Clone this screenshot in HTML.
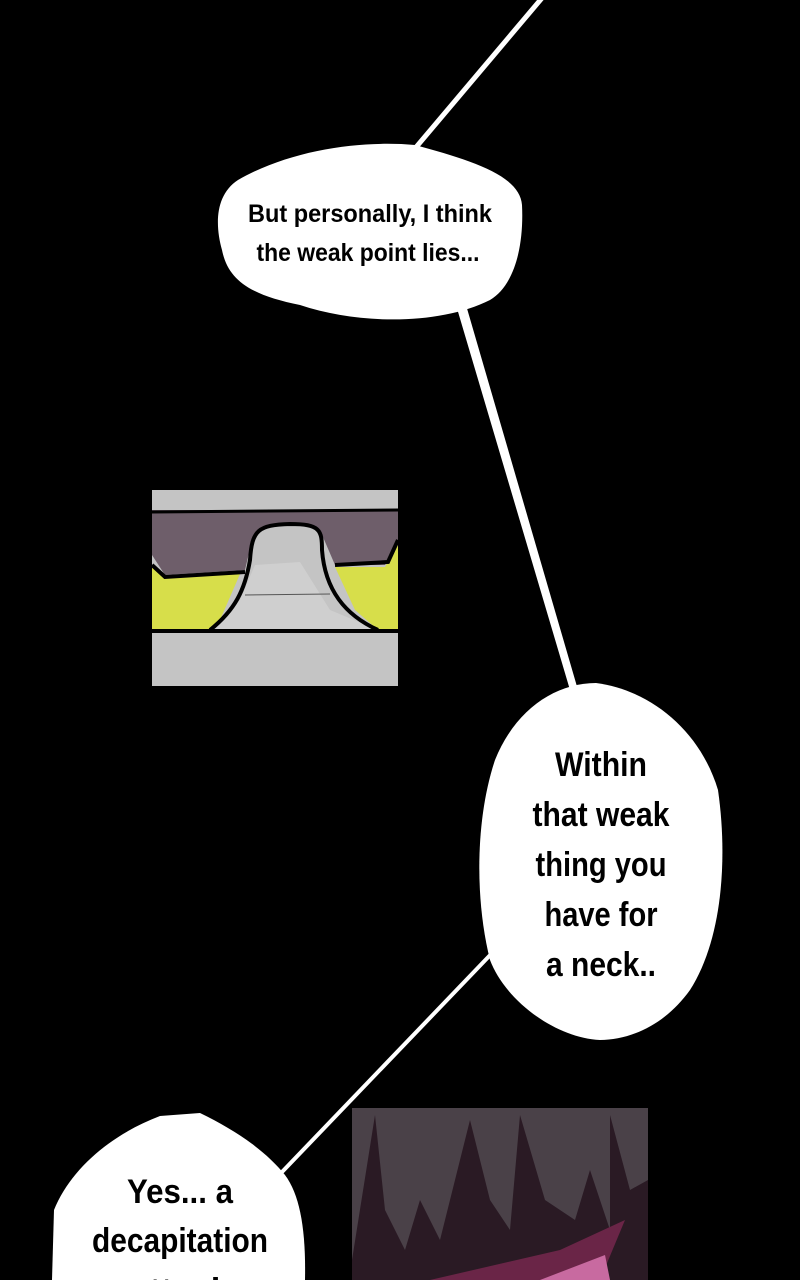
<!DOCTYPE html>
<html><head><style>
html,body{margin:0;padding:0;background:#000;}
svg{display:block}
text{font-family:"Liberation Sans Narrow","Liberation Sans",sans-serif;font-weight:bold;fill:#000;text-anchor:middle}
</style></head><body>
<svg width="800" height="1280" viewBox="0 0 800 1280" xmlns="http://www.w3.org/2000/svg">
<rect width="800" height="1280" fill="#000"/>
<line x1="542" y1="-2" x2="412" y2="152" stroke="#fff" stroke-width="5"/>
<polygon points="456,305 466,305 578,690 570,690" fill="#fff"/>
<line x1="495" y1="950" x2="282" y2="1172" stroke="#fff" stroke-width="4"/>

<g>
<rect x="152" y="490" width="246" height="196" fill="#c4c4c4"/>
<polygon points="152,510 398,510 398,540 385,565 335,565 320,530 300,524 265,526 252,540 245,570 165,575 152,555" fill="#6e5e6a"/>
<path d="M152,512 L398,510" stroke="#000" stroke-width="3" fill="none"/>
<polygon points="152,565 165,577 240,574 220,620 210,630 152,630" fill="#d7de4a"/>
<polygon points="398,545 385,567 335,567 355,610 378,630 398,630" fill="#d7de4a"/>
<path d="M152,565 L165,577 L245,572" stroke="#000" stroke-width="4" fill="none"/>
<path d="M398,540 L388,562 L335,565" stroke="#000" stroke-width="4" fill="none"/>
<polygon points="255,565 300,562 330,610 378,630 210,630 240,600" fill="#cfcfcf"/>
<path d="M210,630 C235,610 245,590 250,560 C252,530 258,525 290,524 C320,524 322,530 322,550 C325,590 345,615 378,630" stroke="#000" stroke-width="4" fill="none"/>
<path d="M152,631 L398,631" stroke="#000" stroke-width="4"/>
<line x1="245" y1="595" x2="330" y2="594" stroke="#555" stroke-width="1"/>
</g>

<g>
<rect x="352" y="1108" width="296" height="172" fill="#4a4148"/>
<polygon points="352,1260 375,1115 385,1210 405,1250 420,1200 440,1240 470,1120 490,1200 510,1230 520,1115 545,1200 575,1220 590,1170 610,1230 610,1115 630,1190 648,1180 648,1280 352,1280" fill="#2a1a24"/>
<polygon points="430,1280 560,1250 625,1220 600,1280" fill="#6a2547"/>
<polygon points="540,1280 605,1255 610,1280" fill="#c86aa0"/>
</g>

<path d="M238,180 C290,150 360,140 415,145 C470,160 520,175 522,205 C524,245 515,285 490,300 C440,325 360,325 300,305 C250,295 228,280 222,250 C215,225 215,195 238,180 Z" fill="#fff"/>
<text x="370" y="222" font-size="25" textLength="244" lengthAdjust="spacingAndGlyphs">But personally, I think</text>
<text x="368" y="261" font-size="25" textLength="223" lengthAdjust="spacingAndGlyphs">the weak point lies...</text>

<path d="M596,683 C650,690 700,730 718,790 C728,860 722,940 690,990 C665,1025 630,1040 600,1040 C555,1038 505,1000 490,960 C475,900 475,820 495,760 C515,710 555,683 596,683 Z" fill="#fff"/>
<text x="601" y="776" font-size="34" textLength="92" lengthAdjust="spacingAndGlyphs">Within</text>
<text x="601" y="826" font-size="34" textLength="137" lengthAdjust="spacingAndGlyphs">that weak</text>
<text x="601" y="876" font-size="34" textLength="131" lengthAdjust="spacingAndGlyphs">thing you</text>
<text x="601" y="926" font-size="34" textLength="113" lengthAdjust="spacingAndGlyphs">have for</text>
<text x="601" y="976" font-size="34" textLength="110" lengthAdjust="spacingAndGlyphs">a neck..</text>

<path d="M200,1113 C235,1130 265,1150 285,1175 C300,1195 306,1230 305,1280 L52,1280 L54,1210 C70,1170 110,1135 160,1116 Z" fill="#fff"/>
<text x="180" y="1203" font-size="34" textLength="106" lengthAdjust="spacingAndGlyphs">Yes... a</text>
<text x="180" y="1252" font-size="34" textLength="176" lengthAdjust="spacingAndGlyphs">decapitation</text>
<text x="180" y="1302" font-size="34" textLength="100" lengthAdjust="spacingAndGlyphs">attack</text>
</svg>
</body></html>
